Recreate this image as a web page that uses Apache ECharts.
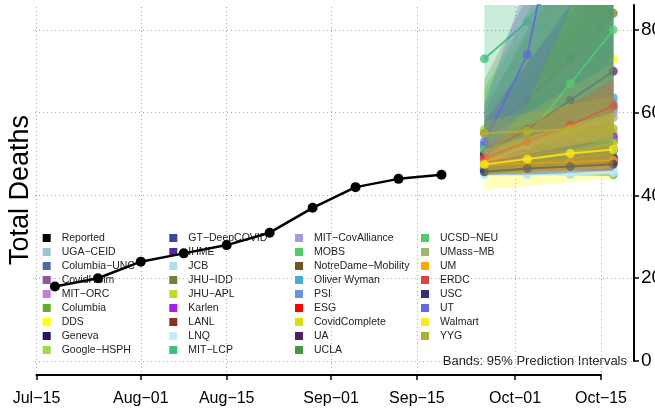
<!DOCTYPE html>
<html><head><meta charset="utf-8">
<script src="https://cdn.jsdelivr.net/npm/echarts@6/dist/echarts.min.js"></script>
<style>html,body{margin:0;padding:0;background:#fff;}#c{width:655px;height:408px;}</style>
</head><body><div id="c"></div>
<script>
// ---------- data ----------
const reportedDates = ['2020-07-18','2020-07-25','2020-08-01','2020-08-08','2020-08-15','2020-08-22','2020-08-29','2020-09-05','2020-09-12','2020-09-19'];
const reportedDeaths = [18, 20, 24, 26, 28, 31, 37, 42, 44, 45];

const forecastDates = ['2020-09-26','2020-10-03','2020-10-10','2020-10-17'];

const modelNames = ['UGA−CEID','Columbia−UNC','CovidHSim','MIT−ORC','Columbia','DDS','Geneva','Google−HSPH',
  'GT−DeepCOVID','IHME','JCB','JHU−IDD','JHU−APL','Karlen','LANL','LNQ','MIT−LCP',
  'MIT−CovAlliance','MOBS','NotreDame−Mobility','Oliver Wyman','PSI','ESG','CovidComplete','UA','UCLA',
  'UCSD−NEU','UMass−MB','UM','ERDC','USC','UT','Walmart','YYG'];

const modelColors = ['#98c4d2','#4f67ab','#8b559f','#c080e0','#66aa33','#ffff00','#2b1463','#99dd44',
  '#3d4499','#5b23a1','#b2dcec','#757f2f','#bbdd22','#a020f0','#883322','#bfeefa','#3cbf7a',
  '#ac99db','#55cc66','#6f5522','#44aad6','#6495e3','#ff0000','#dddd11','#4f1f64','#449944',
  '#55c96f','#a0b56c','#ffa500','#d94545','#2f3570','#6068dd','#ffe81f','#b1b033'];

const forecastMedian = [
  [47,49,51,53],[52,55,58,61],[48,50,52,54],[47,48.5,50,51.5],[45.5,45.3,45.1,45],[48,54,62,73],[46,47,48,49],[56,57.5,59,60.5],
  [46.5,48,49.5,51],[46,47.2,48.3,49.3],[45.2,45.5,45.8,46],[55,63,73,84],[49,51,53,55],[49,51,52.5,54.3],[50,51,52,53],[45,45,45,45.5],[73,82,96,110],
  [51,54,57,60],[52,55,58.5,62.5],[46.5,47.5,47.8,48.3],[47,49,51,53],[52,55,59,63.6],[47.5,47.8,48,48],[47,48.5,50.5,52.5],[50,56,63,70],[46.5,48,49.5,50.8],
  [51,54.3,67,80],[48,52,55.5,58.8],[47.2,47.8,48,48.5],[49,53,57,61.7],[45.7,46.5,47,47.5],[53,74,124,170],[47.5,48.8,50.1,51.1],[55,55.5,56,56.1]
];
const forecastLower = [
  [45,46,47,48],[47,48,49,50],[45,46,47,48],[45,45.5,46,46.5],[45,45,45,45],[41.4,42.3,43.2,44],[45,45.5,46,46.5],[50,51,52,53],
  [45,45.5,46,46.5],[45,45.5,46,46.5],[45,45,45,45],[48,50,53,56],[46,47,48,49],[46,47,48,49],[48,49,49.5,50],[45,45,45,45],[60,66,72,78],
  [47,48.5,50,51],[47,48.5,50,51],[45.5,46,46.5,47],[45,46,47,48],[47,48.5,50,51.5],[45,45.5,46,46],[45,45.5,46,46.5],[46,48,51,54],[45,46,47,48],
  [47,49,52,55],[45.5,47,48.5,50],[45.5,46,46.5,47],[47,49.5,52,55],[45,45,45.5,46],[49,62,85,110],[45,45.5,46,46.5],[52,52,52.5,53]
];
const forecastUpper = [
  [54,62,72,84],[62,78,96,115],[58,68,80,92],[51,54,57,60],[55,68,82,96],[60,76,96,118],[48,50,52,54],[66,80,95,110],
  [50,54,58,63],[48,50,52,54],[47,48,49,50],[68,88,110,135],[56,62,68,75],[53,56,60,64],[52,54,56,58],[46,47,48,49],[96,118,142,168],
  [58,66,74,84],[66,84,104,124],[48.5,50,51,52.5],[54,62,70,80],[60,72,84,96],[49,50,51,52],[52,57,62,68],[58,72,86,100],[60,80,100,120],
  [64,84,104,124],[54,60,66,72],[49,50,51,52],[52,57,62,68],[48,50,52,54],[62,92,160,230],[51,54,57,60],[58,60,62,64]
];

const xTickDates = ['2020-07-15','2020-08-01','2020-08-15','2020-09-01','2020-09-15','2020-10-01','2020-10-15'];
const xTickLabels = ['Jul−15','Aug−01','Aug−15','Sep−01','Sep−15','Oct−01','Oct−15'];
const yTicks = [0, 20, 40, 60, 80];

// ---------- helpers ----------
const DAY = 86400000;
const ts = s => { const p = s.split('-').map(Number); return Date.UTC(p[0], p[1] - 1, p[2]); };
const origin = ts(xTickDates[0]);
const dayOf = s => (ts(s) - origin) / DAY;          // days since first tick date
const FONT = 'Liberation Sans, Arial, Helvetica, sans-serif';
const colorOf = n => n === 'Reported' ? '#000000' : modelColors[modelNames.indexOf(n)];

const xTickDays = xTickDates.map(dayOf);
const xEndDay = xTickDays[xTickDays.length - 1];
// main plotting area is a little wider than the labelled axis (R-style plot region)
const pxPerDay = (601 - 36.5) / xEndDay;
const mainMin = -(36.5 - 35) / pxPerDay;
const mainMax = xEndDay + (634 - 601) / pxPerDay;

const series = [];
// each model: band first, then its median line (later models cover earlier ones)
modelNames.forEach((name, i) => {
  series.push({
    type: 'custom', name: name + ' band', xAxisIndex: 0, yAxisIndex: 0, clip: true, silent: true, z: 10 + 2 * i,
    data: [[dayOf(forecastDates[0]), forecastLower[i][0]]],
    renderItem: (params, api) => {
      const up = forecastDates.map((d, k) => api.coord([dayOf(d), forecastUpper[i][k]]));
      const lo = forecastDates.map((d, k) => api.coord([dayOf(d), forecastLower[i][k]])).reverse();
      return { type: 'polygon', shape: { points: up.concat(lo) }, style: { fill: modelColors[i], opacity: 0.28 } };
    }
  });
  series.push({
    type: 'line', name, xAxisIndex: 0, yAxisIndex: 0, z: 11 + 2 * i,
    data: forecastDates.map((d, k) => [dayOf(d), forecastMedian[i][k]]),
    symbol: 'circle', symbolSize: 9, showSymbol: true,
    lineStyle: { width: 2, color: modelColors[i], opacity: 0.85 },
    itemStyle: { color: modelColors[i], opacity: 0.75 },
    emphasis: { disabled: true }
  });
});
series.push({
  type: 'line', name: 'Reported', xAxisIndex: 0, yAxisIndex: 0, z: 100,
  data: reportedDates.map((d, k) => [dayOf(d), reportedDeaths[k]]),
  symbol: 'circle', symbolSize: 10,
  lineStyle: { width: 2.5, color: '#000' }, itemStyle: { color: '#000' },
  emphasis: { disabled: true }
});
// vertical dotted grid lines at the labelled dates (drawn in the labelled-axis grid)
series.push({
  type: 'line', name: '_grid', xAxisIndex: 1, yAxisIndex: 1, z: 0, symbol: 'none', silent: true,
  data: [[0, -1]], lineStyle: { opacity: 0 },
  markLine: { silent: true, symbol: ['none', 'none'], label: { show: false },
    lineStyle: { color: '#aaaaaa', width: 1, type: [1, 3] },
    data: xTickDays.map(d => ({ xAxis: d })) }
});

const legendCols = [['Reported'].concat(modelNames.slice(0, 8)), modelNames.slice(8, 17), modelNames.slice(17, 26), modelNames.slice(26)];
const legendLefts = [42.7, 169.3, 295, 421];

const option = {
  animation: false,
  textStyle: { fontFamily: FONT },
  grid: [
    { left: 35, right: 21, top: 5, bottom: 47, outerBoundsMode: 'none', containLabel: false },
    { left: 36.5, right: 54, top: 5, bottom: 36, outerBoundsMode: 'none', containLabel: false }
  ],
  xAxis: [
    { type: 'value', gridIndex: 0, min: mainMin, max: mainMax, show: false },
    { type: 'value', gridIndex: 1, min: 0, max: xEndDay, offset: 3,
      axisLine: { show: true, onZero: false, lineStyle: { color: '#000', width: 2 } },
      axisTick: { show: true, length: 5, customValues: xTickDays, lineStyle: { color: '#000', width: 1.5 } },
      axisLabel: { customValues: xTickDays, margin: 16, fontSize: 16, color: '#000', fontFamily: FONT,
        formatter: v => xTickLabels[xTickDays.indexOf(v)] || '' },
      splitLine: { show: false } }
  ],
  yAxis: [
    { type: 'value', gridIndex: 0, position: 'right', min: 0, max: 86,
      axisLine: { show: true, onZero: false, lineStyle: { color: '#000', width: 2 } },
      axisTick: { show: true, length: 5, customValues: yTicks, lineStyle: { color: '#000', width: 1.5 } },
      axisLabel: { customValues: yTicks, margin: 7, fontSize: 19, color: '#000', fontFamily: FONT },
      splitLine: { show: true, lineStyle: { color: '#aaaaaa', width: 1, type: [1, 3] } } },
    { type: 'value', gridIndex: 1, min: 0, max: 1, show: false }
  ],
  legend: legendCols.map((col, c) => ({
    orient: 'vertical', left: legendLefts[c], top: 232, padding: 0, itemGap: 2,
    itemWidth: 8, itemHeight: 8, icon: 'rect', z: 1, selectedMode: false,
    textStyle: { fontSize: 10.5, color: '#222', fontFamily: FONT, lineHeight: 12, padding: [0, 0, 0, 6] },
    data: col.map(n => ({ name: n, itemStyle: { color: colorOf(n), opacity: 1 } }))
  })),
  graphic: [
    { type: 'text', x: 21, y: 190, rotation: Math.PI / 2,
      style: { text: 'Total Deaths', font: '27px ' + FONT, fill: '#000', align: 'center', verticalAlign: 'middle' } },
    { type: 'text', x: 627, y: 361,
      style: { text: 'Bands: 95% Prediction Intervals', font: '13px ' + FONT, fill: '#222', align: 'right', verticalAlign: 'middle' } }
  ],
  series
};

const chart = echarts.init(document.getElementById('c'), null, { renderer: 'canvas' });
chart.setOption(option);
</script>
</body></html>
